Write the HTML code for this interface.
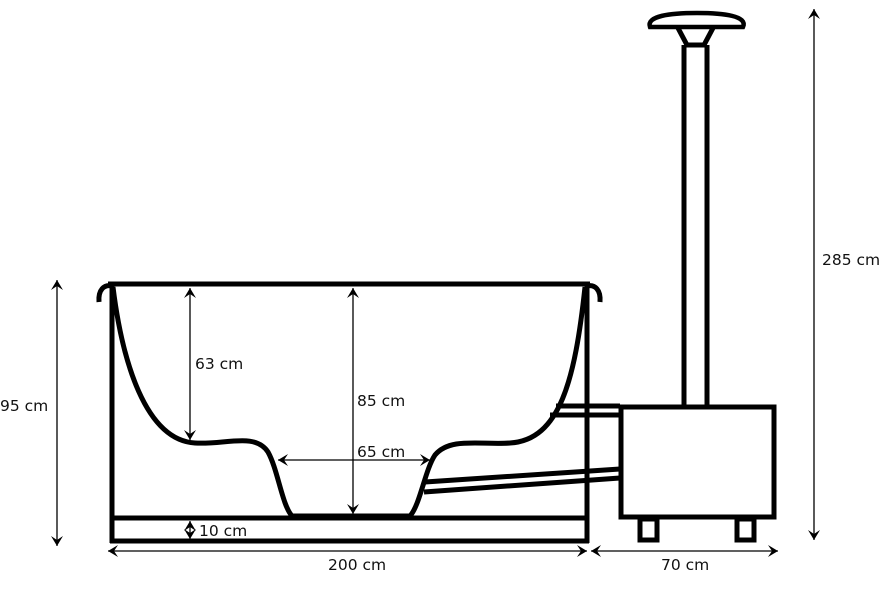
<!DOCTYPE html>
<html><head><style>
html,body{margin:0;padding:0;background:#fff;}
svg{display:block;}
text{font-family:"DejaVu Sans","Liberation Sans",sans-serif;font-size:15.5px;fill:#111;}
</style></head><body>
<svg width="888" height="591" viewBox="0 0 888 591" xmlns="http://www.w3.org/2000/svg">
<defs>
<marker id="a" markerWidth="12" markerHeight="12" refX="10" refY="6" orient="auto-start-reverse" markerUnits="userSpaceOnUse">
<path d="M0,0 L10,6 L0,12 L4,6 Z" fill="#000"/>
</marker>
</defs>
<g fill="none" stroke="#000" stroke-width="5">
<line x1="108" y1="284" x2="590" y2="284"/>
<line x1="112" y1="284" x2="112" y2="543"/>
<line x1="587" y1="284" x2="587" y2="543"/>
<line x1="110" y1="518" x2="589" y2="518"/>
<line x1="110" y1="541" x2="589" y2="541"/>
<path d="M112,286 C104,284 98,290 99,302"/>
<path d="M587,286 C595,284 601,290 600,302"/>
<path d="M113,287 C122,360 145,440 195,443 C225,445 255,432 268,452 C278,470 282,505 292,516 L410,516 C420,505 425,470 435,455 C450,437 480,445 510,443 C560,440 575,380 585,287"/>
<line x1="556" y1="406" x2="620" y2="406"/>
<line x1="550" y1="415" x2="620" y2="415"/>
<line x1="425" y1="482" x2="620" y2="469"/>
<line x1="424" y1="492" x2="620" y2="478"/>
<rect x="621" y="407" width="153" height="110"/>
<rect x="640" y="519" width="17" height="21"/>
<rect x="737" y="519" width="17" height="21"/>
<line x1="684" y1="45" x2="684" y2="406"/>
<line x1="707" y1="45" x2="707" y2="406"/>
<path d="M678,28 L687,45 L704,45 L713,28"/>
<path d="M650,27 C646,16 670,13 697,13 C724,13 748,16 743,27 Z" stroke-width="4.5"/>
</g>
<g stroke="#000" stroke-width="1.3" fill="none">
<line x1="190" y1="288" x2="190" y2="440" marker-start="url(#a)" marker-end="url(#a)"/>
<line x1="353" y1="288" x2="353" y2="514" marker-start="url(#a)" marker-end="url(#a)"/>
<line x1="278" y1="460" x2="430" y2="460" marker-start="url(#a)" marker-end="url(#a)"/>
<line x1="190" y1="521" x2="190" y2="539" marker-start="url(#a)" marker-end="url(#a)"/>
<line x1="108" y1="551" x2="587" y2="551" marker-start="url(#a)" marker-end="url(#a)"/>
<line x1="591" y1="551" x2="778" y2="551" marker-start="url(#a)" marker-end="url(#a)"/>
<line x1="57" y1="280" x2="57" y2="546" marker-start="url(#a)" marker-end="url(#a)"/>
<line x1="814" y1="9" x2="814" y2="540" marker-start="url(#a)" marker-end="url(#a)"/>
</g>
<text x="195" y="369">63 cm</text>
<text x="357" y="406">85 cm</text>
<text x="357" y="457">65 cm</text>
<text x="199" y="536">10 cm</text>
<text x="328" y="570">200 cm</text>
<text x="661" y="570">70 cm</text>
<text x="0" y="411">95 cm</text>
<text x="822" y="265">285 cm</text>
</svg>
</body></html>
